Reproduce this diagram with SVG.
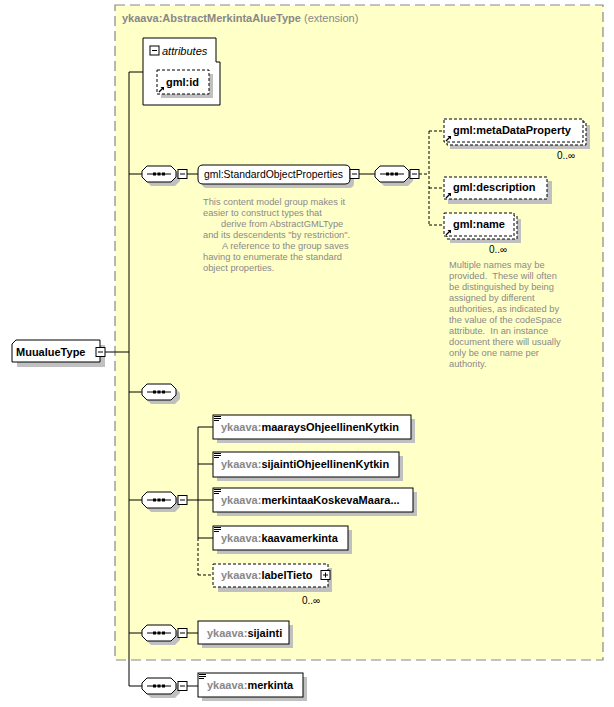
<svg xmlns="http://www.w3.org/2000/svg" width="614" height="707" viewBox="0 0 614 707">
<style>
.bg{fill:#fff}
.ext{fill:#ffffc8;stroke:#888;stroke-width:1.2;stroke-dasharray:10,5}
.box{fill:#fff;stroke:#000;stroke-width:1}
.dbox{fill:#fff;stroke:#000;stroke-width:1;stroke-dasharray:3,2}
.sh{fill:#c0c0c0}
.ln{stroke:#000;stroke-width:1;fill:none}
.dln{stroke:#000;stroke-width:1;fill:none;stroke-dasharray:3,2}
.t{font-family:"Liberation Sans",Arial,sans-serif;font-size:11px;fill:#000}
.b{font-weight:bold}
.ns{fill:#888}
.note{font-family:"Liberation Sans",Arial,sans-serif;font-size:9.3px;fill:#8a8a8a;white-space:pre}
.occ{font-family:"Liberation Sans",Arial,sans-serif;font-size:10px;fill:#000}
</style>
<defs>
<g id="comp">
<path class="sh" d="M9,4 H33 L38,9 V15 L33,20 H9 L4,15 V9 Z"/>
<path class="box" d="M5,0 H29 L34,5 V11 L29,16 H5 L0,11 V5 Z"/>
<line class="ln" x1="5" y1="8" x2="29" y2="8"/>
<rect x="11" y="6.5" width="3" height="3" fill="#000"/>
<rect x="15.5" y="6.5" width="3" height="3" fill="#000"/>
<rect x="20" y="6.5" width="3" height="3" fill="#000"/>
</g>
<g id="minus">
<rect class="box" x="0" y="0" width="9" height="9"/>
<line class="ln" x1="2" y1="4.5" x2="7" y2="4.5"/>
</g>
<g id="plus">
<rect class="box" x="0" y="0" width="9" height="9"/>
<line class="ln" x1="2" y1="4.5" x2="7" y2="4.5"/>
<line class="ln" x1="4.5" y1="2" x2="4.5" y2="7"/>
</g>
<g id="ref">
<path d="M0,6 L4,2" stroke="#000" stroke-width="1.2" fill="none"/>
<path d="M1.5,1 H5 V4.5 Z" fill="#000"/>
</g>
<g id="cm">
<rect x="0" y="0" width="7" height="1" fill="#000"/>
<rect x="0" y="2" width="7" height="1" fill="#000"/>
<rect x="0" y="4" width="5" height="1" fill="#000"/>
</g>
</defs>
<rect class="bg" x="0" y="0" width="614" height="707"/>

<g id="extension">
<rect class="ext" x="115" y="5" width="488" height="655"/>
<text class="t b ns" x="122" y="22">ykaava:AbstractMerkintaAlueType <tspan font-weight="normal">(extension)</tspan></text>
</g>

<g id="connectors">
<line class="ln" x1="105" y1="352" x2="129" y2="352"/>
<line class="ln" x1="129" y1="72" x2="129" y2="686"/>
<line class="ln" x1="129" y1="72" x2="143" y2="72"/>
<line class="ln" x1="129" y1="174" x2="142" y2="174"/>
<line class="ln" x1="187" y1="174" x2="198" y2="174"/>
<line class="ln" x1="359" y1="174" x2="375" y2="174"/>
<line class="dln" x1="419" y1="174" x2="429" y2="174"/>
<line class="dln" x1="429" y1="131" x2="429" y2="225"/>
<line class="dln" x1="429" y1="131" x2="444" y2="131"/>
<line class="dln" x1="429" y1="188" x2="444" y2="188"/>
<line class="dln" x1="429" y1="225" x2="444" y2="225"/>
<line class="ln" x1="129" y1="392" x2="142" y2="392"/>
<line class="ln" x1="129" y1="500" x2="142" y2="500"/>
<line class="ln" x1="187" y1="500" x2="198" y2="500"/>
<line class="ln" x1="198" y1="427" x2="198" y2="538"/>
<line class="dln" x1="198" y1="538" x2="198" y2="575"/>
<line class="ln" x1="198" y1="427" x2="213" y2="427"/>
<line class="ln" x1="198" y1="464" x2="213" y2="464"/>
<line class="ln" x1="198" y1="500" x2="213" y2="500"/>
<line class="ln" x1="198" y1="538" x2="213" y2="538"/>
<line class="dln" x1="198" y1="575" x2="213" y2="575"/>
<line class="ln" x1="129" y1="633" x2="142" y2="633"/>
<line class="ln" x1="187" y1="633" x2="198" y2="633"/>
<line class="ln" x1="129" y1="686" x2="142" y2="686"/>
<line class="ln" x1="187" y1="686" x2="198" y2="686"/>
</g>

<g id="MuualueType">
<path class="sh" d="M21,345 H105 V367 H17 V349 Z"/>
<path class="box" d="M16,340 H100 V362 H12 V344 Z"/>
<text class="t b" x="16" y="356" font-size="11.5">MuualueType</text>
<use href="#minus" x="96" y="347.5"/>
</g>

<g id="attributes">
<path class="box" d="M143,38 H216 V62 H220 V105 H143 Z"/>
<use href="#minus" x="150" y="46"/>
<text class="t" x="162" y="55" font-style="italic">attributes</text>
</g>

<g id="gml-id">
<rect class="sh" x="161" y="74" width="52" height="24"/>
<rect class="dbox" x="157" y="70" width="52" height="24"/>
<use href="#ref" x="159" y="86"/>
<text class="t b" x="166" y="86">gml:id</text>
</g>

<g id="seq1">
<use href="#comp" x="142" y="166"/>
<use href="#minus" x="178" y="169.5"/>
</g>

<g id="StandardObjectProperties">
<path class="sh" d="M207,169 H349 Q354,169 354,174 V183 Q354,188 349,188 H207 Q202,188 202,183 V174 Q202,169 207,169 Z"/>
<path class="box" d="M203,165 H345 Q350,165 350,170 V179 Q350,184 345,184 H203 Q198,184 198,179 V170 Q198,165 203,165 Z"/>
<text class="t" x="204" y="178" textLength="139" lengthAdjust="spacingAndGlyphs">gml:StandardObjectProperties</text>
<use href="#minus" x="350" y="169.5"/>
<text class="note" x="203" y="205">This content model group makes it</text>
<text class="note" x="203" y="216">easier to construct types that</text>
<text class="note" x="221" y="227">derive from AbstractGMLType</text>
<text class="note" x="203" y="238">and its descendents "by restriction".</text>
<text class="note" x="222" y="249">A reference to the group saves</text>
<text class="note" x="203" y="260">having to enumerate the standard</text>
<text class="note" x="203" y="271">object properties.</text>
</g>

<g id="seq2">
<use href="#comp" x="375" y="166"/>
<use href="#minus" x="410" y="169.5"/>
</g>

<g id="metaDataProperty">
<rect class="sh" x="450" y="125" width="140" height="24"/>
<rect class="dbox" x="447" y="122" width="139" height="23"/>
<rect class="dbox" x="444" y="119" width="139" height="23"/>
<use href="#ref" x="446" y="135"/>
<text class="t b" x="453" y="134">gml:metaDataProperty</text>
<text class="occ" x="557" y="159">0..∞</text>
</g>

<g id="description">
<rect class="sh" x="448" y="181" width="104" height="23"/>
<rect class="dbox" x="444" y="177" width="103" height="22"/>
<use href="#ref" x="446" y="192"/>
<text class="t b" x="453" y="191">gml:description</text>
</g>

<g id="name">
<rect class="sh" x="450" y="219" width="71" height="24"/>
<rect class="dbox" x="447" y="216" width="70" height="23"/>
<rect class="dbox" x="444" y="213" width="70" height="23"/>
<use href="#ref" x="446" y="229"/>
<text class="t b" x="453" y="228">gml:name</text>
<text class="occ" x="489" y="253">0..∞</text>
<text class="note" x="449" y="268">Multiple names may be</text>
<text class="note" x="449" y="279">provided.  These will often</text>
<text class="note" x="449" y="290">be distinguished by being</text>
<text class="note" x="449" y="301">assigned by different</text>
<text class="note" x="449" y="312">authorities, as indicated by</text>
<text class="note" x="449" y="323">the value of the codeSpace</text>
<text class="note" x="449" y="334">attribute.  In an instance</text>
<text class="note" x="449" y="345">document there will usually</text>
<text class="note" x="449" y="356">only be one name per</text>
<text class="note" x="449" y="367">authority.</text>
</g>

<g id="seq3">
<use href="#comp" x="142" y="384"/>
</g>

<g id="seq4">
<use href="#comp" x="142" y="492"/>
<use href="#minus" x="178" y="495.5"/>
</g>

<g id="maaraysOhjeellinenKytkin">
<rect class="sh" x="217" y="419" width="198" height="24"/>
<rect class="box" x="213" y="415" width="198" height="24"/>
<use href="#cm" x="214" y="416"/>
<text class="t b" x="221" y="431"><tspan class="ns">ykaava:</tspan>maaraysOhjeellinenKytkin</text>
</g>

<g id="sijaintiOhjeellinenKytkin">
<rect class="sh" x="217" y="456" width="186" height="25"/>
<rect class="box" x="213" y="452" width="186" height="25"/>
<use href="#cm" x="214" y="453"/>
<text class="t b" x="221" y="468"><tspan class="ns">ykaava:</tspan>sijaintiOhjeellinenKytkin</text>
</g>

<g id="merkintaaKoskevaMaara">
<rect class="sh" x="217" y="492" width="200" height="24"/>
<rect class="box" x="213" y="488" width="200" height="24"/>
<use href="#cm" x="214" y="489"/>
<text class="t b" x="221" y="504"><tspan class="ns">ykaava:</tspan>merkintaaKoskevaMaara...</text>
</g>

<g id="kaavamerkinta">
<rect class="sh" x="217" y="530" width="135" height="24"/>
<rect class="box" x="213" y="526" width="135" height="24"/>
<use href="#cm" x="214" y="527"/>
<text class="t b" x="221" y="542"><tspan class="ns">ykaava:</tspan>kaavamerkinta</text>
</g>

<g id="labelTieto">
<rect class="sh" x="218" y="568" width="114" height="24"/>
<rect class="dbox" x="213" y="564" width="115" height="23"/>
<text class="t b" x="221" y="579"><tspan class="ns">ykaava:</tspan>labelTieto</text>
<use href="#plus" x="321" y="570.5"/>
<text class="occ" x="302" y="604">0..∞</text>
</g>

<g id="seq5">
<use href="#comp" x="142" y="625"/>
<use href="#minus" x="178" y="628.5"/>
</g>

<g id="sijainti">
<rect class="sh" x="202" y="625" width="91" height="23"/>
<rect class="box" x="198" y="621" width="91" height="23"/>
<text class="t b" x="207" y="637"><tspan class="ns">ykaava:</tspan>sijainti</text>
</g>

<g id="seq6">
<use href="#comp" x="142" y="678"/>
<use href="#minus" x="178" y="681.5"/>
</g>

<g id="merkinta">
<rect class="sh" x="202" y="677" width="105" height="24"/>
<rect class="box" x="198" y="673" width="105" height="24"/>
<use href="#cm" x="199" y="674"/>
<text class="t b" x="207" y="689"><tspan class="ns">ykaava:</tspan>merkinta</text>
</g>
</svg>
